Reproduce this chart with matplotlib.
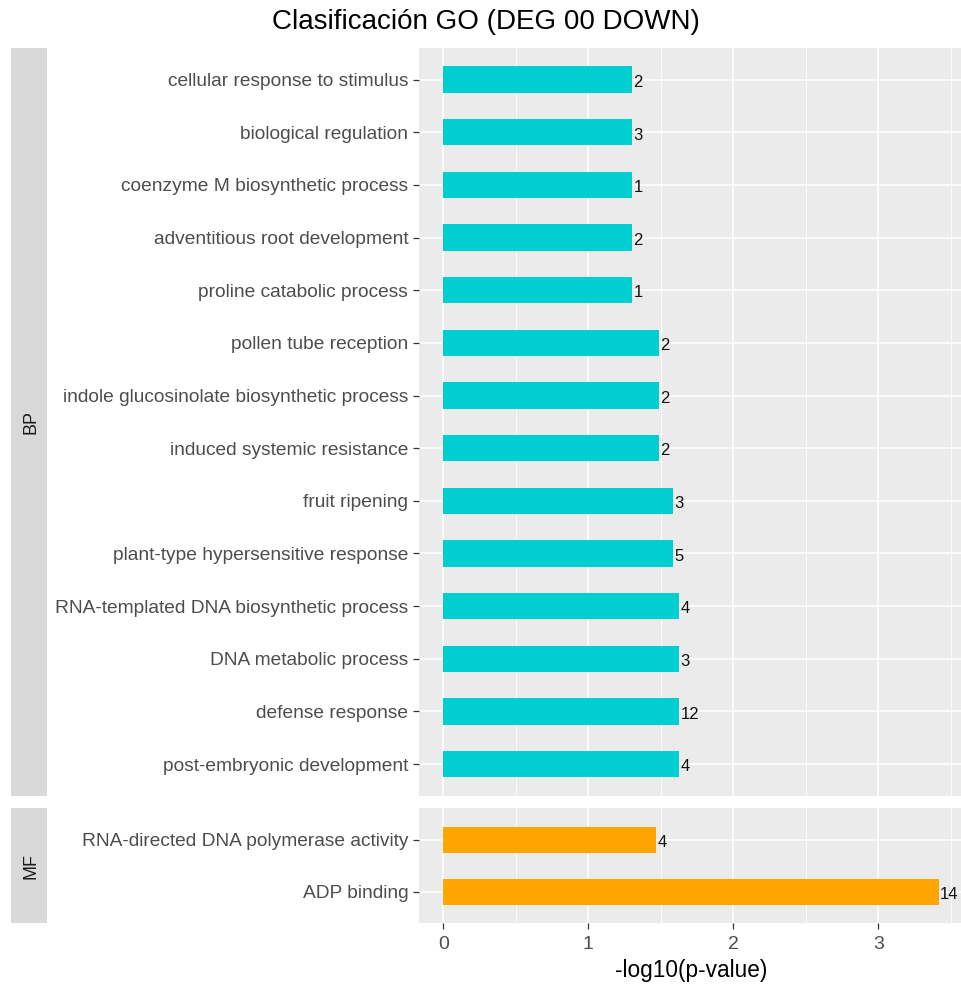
import matplotlib
matplotlib.use('Agg')
import matplotlib.pyplot as plt
from matplotlib.ticker import MultipleLocator, FixedLocator

plt.rcParams['font.family'] = ['Liberation Sans', 'DejaVu Sans']

# ---- data (top to bottom as displayed) ----
bp_terms = [
    "cellular response to stimulus",
    "biological regulation",
    "coenzyme M biosynthetic process",
    "adventitious root development",
    "proline catabolic process",
    "pollen tube reception",
    "indole glucosinolate biosynthetic process",
    "induced systemic resistance",
    "fruit ripening",
    "plant-type hypersensitive response",
    "RNA-templated DNA biosynthetic process",
    "DNA metabolic process",
    "defense response",
    "post-embryonic development",
]
bp_values = [1.302, 1.302, 1.302, 1.302, 1.302, 1.486, 1.486, 1.486,
             1.583, 1.583, 1.625, 1.625, 1.625, 1.625]
bp_counts = [2, 3, 1, 2, 1, 2, 2, 2, 3, 5, 4, 3, 12, 4]

mf_terms = ["RNA-directed DNA polymerase activity", "ADP binding"]
mf_values = [1.465, 3.417]
mf_counts = [4, 14]

ontologies = ["BP", "MF"]
bar_colors = {"BP": "#00CED1", "MF": "#FFA500"}
title = "Clasificación GO (DEG 00 DOWN)"
xlabel = "-log10(p-value)"
x_ticks = [0, 1, 2, 3]

W, H = 961, 985
fig = plt.figure(figsize=(W / 100, H / 100), dpi=100)


def rect(l, t, r, b):
    return [l / W, 1 - b / H, (r - l) / W, (b - t) / H]


xmax = max(bp_values + mf_values)
xpad = 0.05 * xmax
xlim = (-xpad, xmax + xpad)

panel_left, panel_right = 418.6, 963.5
strip_left, strip_right = 11, 46.7
vert = {"BP": (48, 795.7), "MF": (808.3, 923.3)}
data = {"BP": (bp_terms, bp_values, bp_counts), "MF": (mf_terms, mf_values, mf_counts)}

axes = []
for ont in ontologies:
    terms, vals, cnts = data[ont]
    top, bot = vert[ont]
    ax = fig.add_axes(rect(panel_left, top, panel_right, bot))
    axes.append(ax)
    n = len(terms)
    ys = [n - 1 - i for i in range(n)]
    ax.set_facecolor('#EBEBEB')
    ax.set_axisbelow(True)
    ax.barh(ys, vals, height=0.5, color=bar_colors[ont], zorder=2)
    for v, y, c in zip(vals, ys, cnts):
        ax.annotate(str(c), xy=(v, y), xytext=(1.0, -2), textcoords='offset points',
                    ha='left', va='center', fontsize=12, color='#111111',
                    annotation_clip=False, zorder=3)
    ax.set_xlim(*xlim)
    ax.set_ylim(-0.6, n - 1 + 0.6)
    ax.set_yticks(ys)
    ax.set_yticklabels(terms)
    ax.xaxis.set_major_locator(FixedLocator(x_ticks))
    ax.xaxis.set_minor_locator(MultipleLocator(0.5))
    ax.grid(True, which='major', color='white', linewidth=1.1)
    ax.grid(True, which='minor', axis='x', color='white', linewidth=0.55)
    ax.tick_params(axis='x', which='minor', length=0)
    for s in ax.spines.values():
        s.set_visible(False)
    ax.tick_params(axis='y', length=4, width=0.9, color='#333333', pad=3.5,
                   labelsize=13.75, labelcolor='#4D4D4D')
    ax.tick_params(axis='x', which='major', length=4, width=0.9, color='#333333', pad=5,
                   labelsize=14, labelcolor='#4D4D4D')

    # strip
    sax = fig.add_axes(rect(strip_left, top, strip_right, bot))
    sax.set_facecolor('#D9D9D9')
    sax.set_xticks([])
    sax.set_yticks([])
    for s in sax.spines.values():
        s.set_visible(False)
    sax.text(0.56, 0.5, ont, rotation=90, ha='center', va='center',
             fontsize=13, color='#1A1A1A', transform=sax.transAxes)

axes[0].tick_params(axis='x', which='both', length=0, labelbottom=False)

fig.text(486 / W, 1 - 22 / H, title, ha='center', va='center', fontsize=20, color='black')
fig.text(691 / W, 1 - 970 / H, xlabel, ha='center', va='center', fontsize=16.3, color='black')

fig.savefig('out.png', dpi=100)
